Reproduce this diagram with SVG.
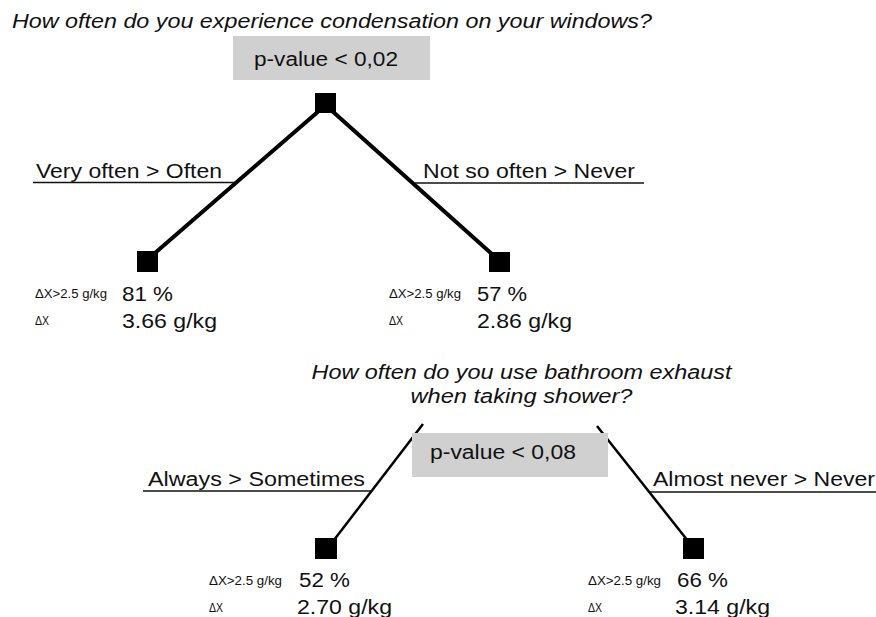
<svg xmlns="http://www.w3.org/2000/svg" width="876" height="617" viewBox="0 0 876 617">
<style>
text{font-family:"Liberation Sans",Arial,sans-serif;fill:#111;}
.q{font-size:20px;font-style:italic;}
.lab{font-size:20px;}
.big{font-size:20.5px;}
.sm{font-size:12px;}
.pbox{fill:#d0d0d0;}
.node{fill:#000;}
.thick{stroke:#000;stroke-width:4;fill:none;}
.thin{stroke:#000;stroke-width:2.5;fill:none;}
.ul{stroke:#111;stroke-width:1.6;fill:none;}
</style>
<rect width="876" height="617" fill="#fff"/>
<g id="connectors">
<line class="thick" x1="320" y1="110" x2="155" y2="253"/>
<line class="thick" x1="331" y1="110" x2="493" y2="255"/>
<line class="ul" x1="33" y1="182.5" x2="237" y2="182.5"/>
<line class="ul" x1="415" y1="183" x2="644" y2="183"/>
<line class="thin" x1="423" y1="424" x2="334" y2="540"/>
<line class="thin" x1="597" y1="426" x2="688" y2="541"/>
<line class="ul" x1="143" y1="491" x2="372" y2="491"/>
<line class="ul" x1="650" y1="492" x2="876" y2="492"/>
</g>
<g id="q1">
<text class="q" x="12" y="27.5" textLength="640" lengthAdjust="spacingAndGlyphs">How often do you experience condensation on your windows?</text>
</g>
<g id="p1">
<rect class="pbox" x="233" y="36" width="197" height="44"/>
<text class="lab" x="254" y="66" textLength="144" lengthAdjust="spacingAndGlyphs">p-value &lt; 0,02</text>
</g>
<g id="root1"><rect class="node" x="315" y="93" width="21" height="20"/></g>
<g id="branch1L"><text class="lab" x="36" y="178" textLength="186" lengthAdjust="spacingAndGlyphs">Very often &gt; Often</text></g>
<g id="branch1R"><text class="lab" x="423" y="178" textLength="212" lengthAdjust="spacingAndGlyphs">Not so often &gt; Never</text></g>
<g id="leaf1L">
<rect class="node" x="137" y="251" width="21" height="21"/>
<text class="sm" x="35" y="298" textLength="72" lengthAdjust="spacingAndGlyphs">ΔX&gt;2.5 g/kg</text>
<text class="big" x="122" y="301" textLength="51" lengthAdjust="spacingAndGlyphs">81 %</text>
<text class="sm" x="35" y="325" textLength="14" lengthAdjust="spacingAndGlyphs">ΔX</text>
<text class="big" x="122" y="328" textLength="95" lengthAdjust="spacingAndGlyphs">3.66 g/kg</text>
</g>
<g id="leaf1R">
<rect class="node" x="489" y="252" width="21" height="20"/>
<text class="sm" x="389" y="298" textLength="72" lengthAdjust="spacingAndGlyphs">ΔX&gt;2.5 g/kg</text>
<text class="big" x="477" y="301" textLength="50" lengthAdjust="spacingAndGlyphs">57 %</text>
<text class="sm" x="389" y="325" textLength="14" lengthAdjust="spacingAndGlyphs">ΔX</text>
<text class="big" x="477" y="328" textLength="95" lengthAdjust="spacingAndGlyphs">2.86 g/kg</text>
</g>
<g id="q2">
<text class="q" x="521.5" y="379" text-anchor="middle" textLength="420" lengthAdjust="spacingAndGlyphs">How often do you use bathroom exhaust</text>
<text class="q" x="521.5" y="403" text-anchor="middle" textLength="222" lengthAdjust="spacingAndGlyphs">when taking shower?</text>
</g>
<g id="p2">
<rect class="pbox" x="412" y="433" width="196" height="44"/>
<text class="lab" x="430" y="459" textLength="146" lengthAdjust="spacingAndGlyphs">p-value &lt; 0,08</text>
</g>
<g id="branch2L"><text class="lab" x="148" y="486" textLength="217" lengthAdjust="spacingAndGlyphs">Always &gt; Sometimes</text></g>
<g id="branch2R"><text class="lab" x="653" y="486" textLength="222" lengthAdjust="spacingAndGlyphs">Almost never &gt; Never</text></g>
<g id="leaf2L">
<rect class="node" x="315" y="538" width="22" height="21"/>
<text class="sm" x="209" y="585" textLength="73" lengthAdjust="spacingAndGlyphs">ΔX&gt;2.5 g/kg</text>
<text class="big" x="299" y="587" textLength="51" lengthAdjust="spacingAndGlyphs">52 %</text>
<text class="sm" x="209" y="612" textLength="14" lengthAdjust="spacingAndGlyphs">ΔX</text>
<text class="big" x="297" y="614" textLength="95" lengthAdjust="spacingAndGlyphs">2.70 g/kg</text>
</g>
<g id="leaf2R">
<rect class="node" x="683" y="538" width="21" height="21"/>
<text class="sm" x="588" y="585" textLength="73" lengthAdjust="spacingAndGlyphs">ΔX&gt;2.5 g/kg</text>
<text class="big" x="677" y="587" textLength="51" lengthAdjust="spacingAndGlyphs">66 %</text>
<text class="sm" x="588" y="612" textLength="14" lengthAdjust="spacingAndGlyphs">ΔX</text>
<text class="big" x="675" y="614" textLength="95" lengthAdjust="spacingAndGlyphs">3.14 g/kg</text>
</g>
</svg>
